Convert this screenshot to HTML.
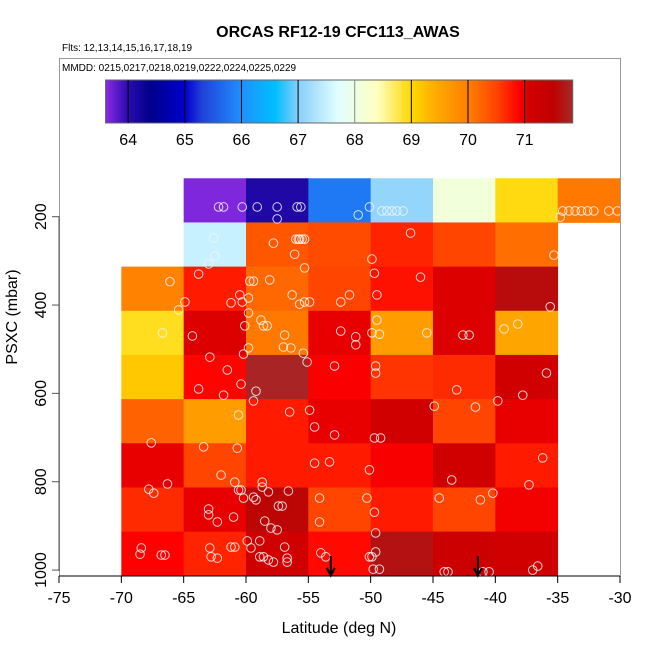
<!DOCTYPE html>
<html><head><meta charset="utf-8"><style>
body{margin:0;background:#fff;}
svg{display:block;font-family:"Liberation Sans",sans-serif;}
</style></head><body>
<svg id="chart" width="650" height="650" viewBox="0 0 650 650" xmlns="http://www.w3.org/2000/svg">
<defs><linearGradient id="cbgrad" x1="0" x2="1" y1="0" y2="0"></linearGradient></defs>
<text x="338" y="37" text-anchor="middle" font-size="16" font-weight="bold">ORCAS RF12-19 CFC113_AWAS</text>
<text x="62" y="51" font-size="10">Flts: 12,13,14,15,16,17,18,19</text>
<g id="cells"></g>
<g id="points"></g>
<g id="arrows"></g>
<rect x="59.5" y="58.5" width="561" height="517.5" fill="none" stroke="#999" stroke-width="1"/>
<line x1="59" x2="620" y1="576" y2="576" stroke="#000"/>
<line x1="59" x2="59" y1="216" y2="571" stroke="#555"/>
<text x="62" y="71" font-size="10">MMDD: 0215,0217,0218,0219,0222,0224,0225,0229</text>
<g id="colorbar"></g>
<g id="xaxis"></g>
<g id="yaxis"></g>
<text x="339" y="633" text-anchor="middle" font-size="16">Latitude (deg N)</text>
<text transform="translate(17,317) rotate(-90)" text-anchor="middle" font-size="16">PSXC (mbar)</text>
</svg>
<script>
// ---- data ----
const latBins = [-70,-65,-60,-55,-50,-45,-40,-35];
const pBins = [113,213,313,413,513,613,713,813,913];
const binWidthLat = 5;
const binWidthP = 100;
// values[row][col], null = no data
const values = [
 [null,63.65,64.1,65.8,67.1,68.1,68.95,70.05],
 [null,67.5,70.35,70.45,70.7,70.5,70.15,null],
 [69.95,70.75,70.2,70.5,70.8,71.05,71.6,null],
 [68.9,71.05,70.05,71.0,69.6,71.05,69.5,null],
 [69.15,70.88,71.8,70.92,70.6,70.65,71.1,null],
 [70.25,69.6,70.75,71.0,71.1,70.5,71.0,null],
 [71.0,70.5,70.75,70.75,70.93,71.1,70.75,null],
 [70.65,71.0,71.55,70.5,70.75,70.5,70.95,null],
 [70.9,70.7,71.1,70.85,71.65,71.2,71.1,null]
];
const cmapVals = [63.6,64.0,64.4,65.0,65.3,66.0,66.6,67.0,67.7,68.4,69.0,69.5,70.0,70.5,70.9,71.1,71.5,71.85];
const cmapCols = ['#8a2be2','#2a0ab0','#00008b','#0000cd','#2040d8','#1e90ff','#00bfff','#87cefa','#e0ffff','#ffffc0','#ffd700','#ffa500','#ff7f00','#ff4500','#ff0000','#d00000','#c00000','#a52a2a'];
const cbTicks = [64,65,66,67,68,69,70,71];
const xTicks = [-75,-70,-65,-60,-55,-50,-45,-40,-35,-30];
const yTicks = [200,400,600,800,1000];
const ptLat = [-62.2,-61.8,-60.3,-59.1,-57.5,-55.9,-55.6,-50.1,-49.1,-48.7,-48.3,-47.9,-47.4,-34.6,-34.1,-33.6,-33.1,-32.6,-32.1,-30.9,-30.2,-34.8,-51.0,-57.5,
 -62.6,-62.5,-63.0,-57.8,-56.1,-55.3,-56.0,-55.8,-55.7,-55.5,-55.3,-46.8,-35.3,-49.9,-49.7,
 -66.1,-65.4,-66.7,-63.8,-64.9,-64.3,-62.9,-61.5,-63.8,-61.8,-60.4,-60.5,-61.2,-60.3,-59.8,-59.8,-60.1,-59.8,-60.2,-59.7,-59.4,-58.1,-56.3,-55.7,-55.3,-54.9,-58.8,-58.6,-58.3,-56.9,-57.0,-56.4,-55.4,-55.1,-59.2,-59.4,-60.6,-67.6,-63.4,-60.7,-56.5,-54.9,-54.5,-52.9,-52.9,-52.4,-51.2,-51.2,-51.7,-52.4,-49.5,
 -54.5,-53.3,-50.1,-62.0,-60.9,-60.6,-60.4,-60.2,-58.7,-58.7,-58.2,-56.6,-59.4,-59.2,-57.4,-57.1,-67.8,-67.4,-66.3,-63.0,-63.0,-62.3,-61.0,-58.5,-58.0,-57.5,-54.1,-54.1,-50.3,-49.7,
 -68.4,-68.5,-66.8,-66.5,-62.9,-62.8,-62.3,-61.2,-60.9,-59.9,-59.6,-58.9,-58.9,-58.6,-58.2,-57.8,-56.7,-56.7,-56.9,-54.0,-53.6,-50.1,-49.8,-49.6,
 -46.0,-35.6,-49.5,-49.3,-49.9,-45.5,-42.6,-42.1,-39.3,-38.2,-49.6,-49.6,-43.1,-35.9,-37.8,-39.8,-44.9,-41.6,-49.7,-49.2,-43.5,-36.2,-37.3,-40.2,-41.2,-44.5,-49.6,-49.9,-49.3,-44.1,-43.8,-41.0,-40.5,-37.0,-36.6];
const ptP = [178,178,178,178,178,178,178,178,187,187,187,187,187,187,187,187,187,187,187,187,187,201,196,205,
 248,289,307,260,285,316,251,251,251,251,251,237,287,296,328,
 347,411,463,330,393,470,518,547,590,604,579,377,395,393,384,418,447,497,511,346,346,343,377,398,393,393,434,447,447,468,495,497,509,529,595,617,649,712,721,724,642,638,676,694,538,459,472,490,377,393,377,
 758,755,773,785,801,819,819,837,801,812,823,821,835,841,855,855,817,826,805,862,875,891,880,889,905,909,837,891,837,869,
 950,964,966,966,950,970,973,948,948,934,950,934,970,970,977,982,973,982,948,961,970,970,998,959,
 337,404,434,466,463,463,468,468,454,443,538,554,592,554,604,617,629,631,701,701,796,746,807,826,841,837,916,970,998,1004,1004,1004,1004,1000,991];
const arrowLat = [-53.2,-41.4];

// ---- axes ----
const X0=59, X1=620, LATMIN=-75, LATMAX=-30;
function xs(lat){return X0+(lat-LATMIN)/(LATMAX-LATMIN)*(X1-X0);}
function ys(p){return 216.7+(p-200)*0.4417;}
const CBMIN=63.6, CBMAX=71.85;
function cbx(v){return 128.2+(v-64)*56.63;}
const CB0=cbx(CBMIN), CB1=cbx(CBMAX);
function hex2rgb(h){return [parseInt(h.substr(1,2),16),parseInt(h.substr(3,2),16),parseInt(h.substr(5,2),16)];}
function colorFor(v){
  if(v<=cmapVals[0]) return cmapCols[0];
  for(let i=1;i<cmapVals.length;i++){
    if(v<=cmapVals[i]){
      const t=(v-cmapVals[i-1])/(cmapVals[i]-cmapVals[i-1]);
      const a=hex2rgb(cmapCols[i-1]), b=hex2rgb(cmapCols[i]);
      return 'rgb('+a.map((c,k)=>Math.round(c+(b[k]-c)*t)).join(',')+')';
    }
  }
  return cmapCols[cmapCols.length-1];
}
const NS='http://www.w3.org/2000/svg';
function mk(tag,attrs,parent){const e=document.createElementNS(NS,tag);for(const k in attrs)e.setAttribute(k,attrs[k]);parent.appendChild(e);return e;}

// cells
const gCells=document.getElementById('cells');
values.forEach((row,r)=>row.forEach((v,c)=>{
  if(v===null) return;
  const x0=xs(latBins[c]), x1=xs(latBins[c]+binWidthLat);
  const y0=ys(pBins[r]), y1=ys(pBins[r]+binWidthP);
  const e=mk('rect',{x:x0,y:y0,width:x1-x0+0.4,height:y1-y0+0.4,fill:colorFor(v)},gCells);
  
  
}));
// points
const gPts=document.getElementById('points');
ptLat.forEach((lat,i)=>{
  const e=mk('circle',{cx:xs(lat),cy:ys(ptP[i]),r:4.3,fill:'none',stroke:'#f4f4f4','stroke-opacity':0.85,'stroke-width':1},gPts);
  
  
});
// arrows
const gArr=document.getElementById('arrows');
arrowLat.forEach(lat=>{
  const x=xs(lat);
  const g=mk('g',{},gArr);
  
  
  mk('line',{x1:x,x2:x,y1:556,y2:575,stroke:'#000','stroke-width':2},g);
  mk('polyline',{points:(x-4)+',568 '+x+',575.5 '+(x+4)+',568',fill:'none',stroke:'#000','stroke-width':2},g);
});
// colorbar
const grad=document.getElementById('cbgrad');
cmapVals.forEach((v,i)=>{mk('stop',{offset:((v-CBMIN)/(CBMAX-CBMIN)),'stop-color':cmapCols[i]},grad);});
const gCb=document.getElementById('colorbar');
const cbr=mk('rect',{x:CB0,y:80,width:CB1-CB0,height:43,fill:'url(#cbgrad)',stroke:'#666','stroke-width':1},gCb);


cbTicks.forEach(v=>{
  const x=cbx(v);
  const l=mk('line',{x1:x,x2:x,y1:80,y2:123,stroke:v===68?'#888':'#000','stroke-width':1},gCb);
  
  
  const t=mk('text',{x:x,y:145,'text-anchor':'middle','font-size':16},gCb);
  t.textContent=v;
  
  
});
// x axis
const gX=document.getElementById('xaxis');
xTicks.forEach(v=>{
  const x=xs(v);
  const l=mk('line',{x1:x,x2:x,y1:576,y2:583,stroke:'#000'},gX);
  
  
  const t=mk('text',{x:x,y:603,'text-anchor':'middle','font-size':16},gX);
  t.textContent=v;
  
  
});
// y axis
const gY=document.getElementById('yaxis');
yTicks.forEach(v=>{
  const y=ys(v);
  const l=mk('line',{x1:52,x2:59,y1:y,y2:y,stroke:'#555'},gY);
  
  
  const t=mk('text',{transform:'translate(46,'+y+') rotate(-90)','text-anchor':'middle','font-size':16},gY);
  t.textContent=v;
  
  
});
</script>
</body></html>
